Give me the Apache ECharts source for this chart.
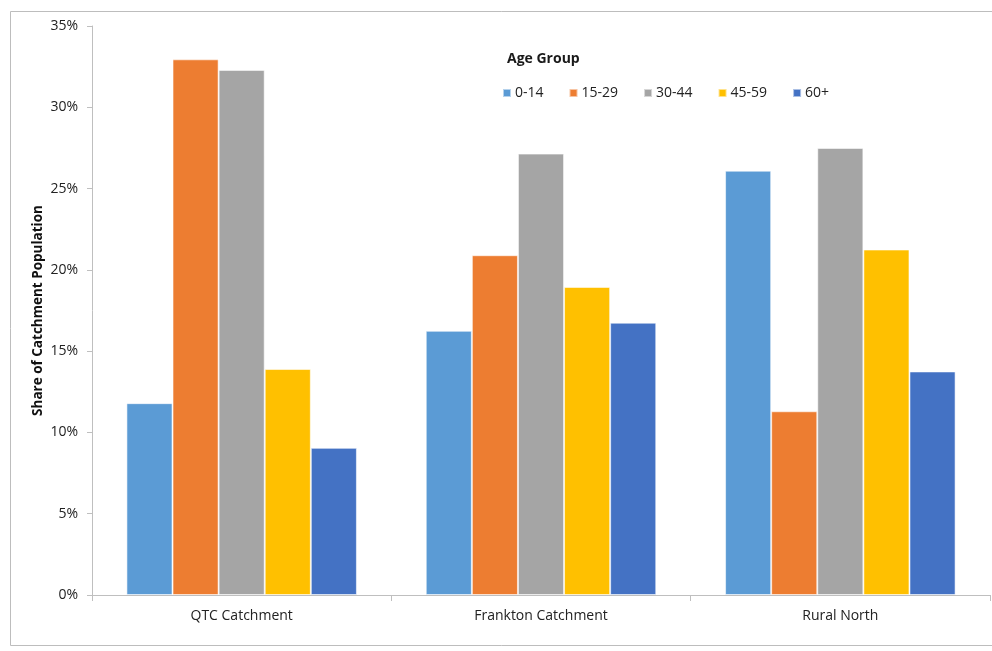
<!DOCTYPE html>
<html>
<head>
<meta charset="utf-8">
<script src="https://cdn.jsdelivr.net/npm/echarts@6/dist/echarts.min.js"></script>
<style>
  html, body { margin: 0; padding: 0; background: #fff; }
  #chart { width: 992px; height: 651px; }
</style>
</head>
<body>
<div id="chart"></div>
<script>
// Share of catchment population by age group
const categories = ['QTC Catchment', 'Frankton Catchment', 'Rural North'];
const ageGroups = ['0-14', '15-29', '30-44', '45-59', '60+'];
const age0to14 = [11.8, 16.25, 26.1];
const age15to29 = [32.95, 20.9, 11.3];
const age30to44 = [32.3, 27.15, 27.5];
const age45to59 = [13.9, 18.95, 21.25];
const age60plus = [9.05, 16.75, 13.75];
const yTicks = [0, 5, 10, 15, 20, 25, 30, 35];

const seriesValues = [age0to14, age15to29, age30to44, age45to59, age60plus];
const colors = ['#5B9BD5', '#ED7D31', '#A5A5A5', '#FFC000', '#4472C4'];
const font = 'Open Sans';

const chart = echarts.init(document.getElementById('chart'), null, { renderer: 'canvas' });

chart.setOption({
  animation: false,
  backgroundColor: '#ffffff',
  color: colors,
  textStyle: { fontFamily: font },
  graphic: [
    {
      type: 'rect',
      shape: { x: 10.5, y: 11.5, width: 990, height: 634 },
      style: { fill: 'none', stroke: '#bdbdbd', lineWidth: 1 },
      silent: true
    },
    {
      type: 'text',
      left: 507,
      top: 52,
      style: { text: 'Age Group', font: 'bold 14px ' + font, fill: '#1a1a1a' }
    }
  ],
  legend: {
    data: ageGroups,
    left: 497,
    top: 81,
    icon: 'rect',
    itemWidth: 8,
    itemHeight: 8,
    itemGap: 25,
    textStyle: { fontSize: 14, color: '#222', fontFamily: font, padding: [0, 0, 0, -1] }
  },
  grid: { left: 92, right: 2, top: 26, bottom: 56, containLabel: false },
  xAxis: {
    type: 'category',
    data: categories,
    axisLine: { lineStyle: { color: '#bfbfbf', width: 1 } },
    axisTick: { show: true, length: 6, interval: 0, lineStyle: { color: '#bfbfbf' } },
    axisLabel: { color: '#222', fontSize: 14, margin: 14, fontFamily: font }
  },
  yAxis: {
    type: 'value',
    min: 0,
    max: 35,
    interval: 5,
    name: 'Share of Catchment Population',
    nameLocation: 'middle',
    nameGap: 47,
    nameMoveOverlap: false,
    nameTextStyle: { fontWeight: 'bold', fontSize: 13.5, color: '#111', fontFamily: font },
    axisLine: { show: true, lineStyle: { color: '#bfbfbf' } },
    axisTick: { show: true, length: 5, lineStyle: { color: '#bfbfbf' } },
    splitLine: { show: false },
    axisLabel: {
      color: '#222', fontSize: 14, margin: 14, fontFamily: font,
      formatter: v => (yTicks.includes(v) ? v + '%' : '')
    }
  },
  series: ageGroups.map((name, i) => ({
    name,
    type: 'bar',
    data: seriesValues[i],
    barGap: '0%',
    barCategoryGap: '23%',
    itemStyle: { color: colors[i], borderColor: 'rgba(255,255,255,0.55)', borderWidth: 1 }
  }))
});
</script>
</body>
</html>
